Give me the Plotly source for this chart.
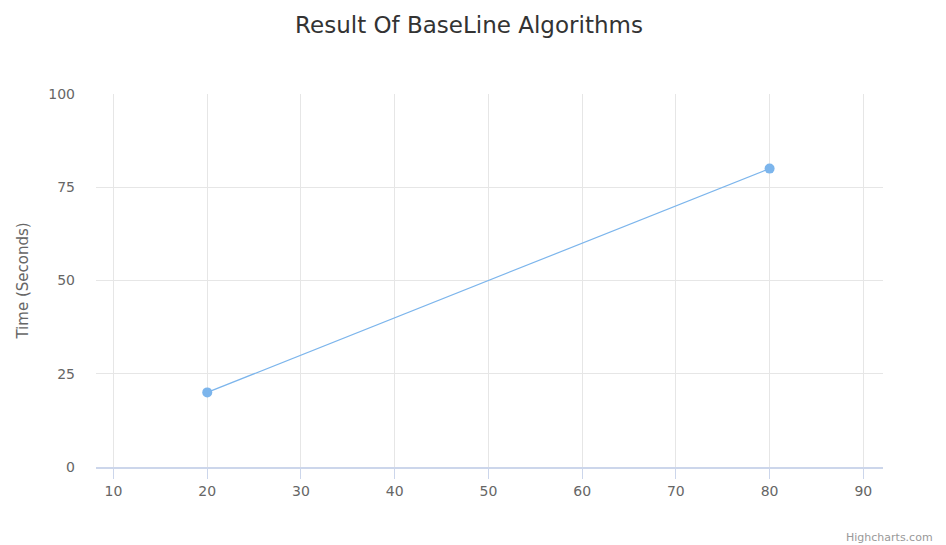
import plotly.graph_objects as go

x_values = [20, 80]
y_values = [20, 80]
x_ticks = [10, 20, 30, 40, 50, 60, 70, 80, 90]
y_ticks = [0, 25, 50, 75, 100]

fig = go.Figure()
fig.add_trace(go.Scatter(
    x=x_values, y=y_values, mode="lines+markers",
    line=dict(color="#7cb5ec", width=1.2),
    marker=dict(color="#7cb5ec", size=10),
    hoverinfo="x+y", showlegend=False,
))

font_family = "DejaVu Sans, Open Sans, sans-serif"
W, H = 930, 537
L, R, T, B = 88, 55, 86, 78
PW, PH = W - L - R, H - T - B
fig.update_layout(
    width=W, height=H,
    margin=dict(l=L, r=R, t=T, b=B),
    paper_bgcolor="white", plot_bgcolor="white",
    title=dict(text="Result Of BaseLine Algorithms", x=(469 - 8) / W, xanchor="center",
               y=1 - 17 / H, yanchor="middle",
               font=dict(family=font_family, size=23, color="#333333")),
    font=dict(family=font_family, color="#666666", size=14),
    xaxis=dict(range=[8.13, 92.1], tickvals=x_ticks, showgrid=True, gridcolor="#e6e6e6",
               gridwidth=1, zeroline=False, showline=True, linecolor="#ccd6eb", linewidth=2,
               ticks="outside", ticklen=10, tickcolor="#ccd6eb", tickwidth=1,
               tickfont=dict(size=14, color="#666666")),
    yaxis=dict(range=[0, 100], tickvals=y_ticks, showgrid=True, gridcolor="#e6e6e6",
               gridwidth=1, zeroline=False, showline=False, ticks="",
               ticklabelstandoff=20,
               title=dict(text="Time (Seconds)", standoff=16,
                          font=dict(size=15, color="#666666")),
               tickfont=dict(size=14, color="#666666")),
    annotations=[dict(text="Highcharts.com", xref="paper", yref="paper",
                      x=(927 - L) / PW, y=-70 / PH, xanchor="right", yanchor="middle",
                      showarrow=False, font=dict(size=11, color="#999999"))],
)

fig.write_html("out.html")
